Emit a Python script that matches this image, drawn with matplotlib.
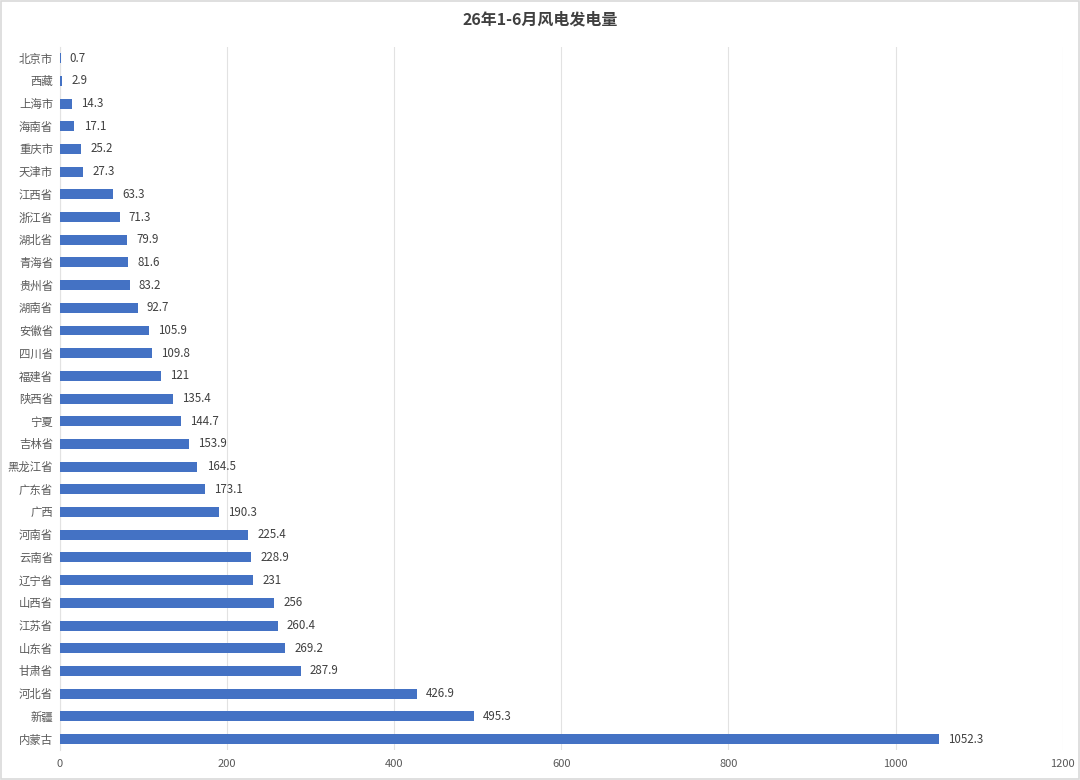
import matplotlib
matplotlib.use("Agg")
import matplotlib.pyplot as plt
from matplotlib.patches import Rectangle

plt.rcParams['font.family'] = ['Noto Sans CJK SC', 'DejaVu Sans']

provinces = ["北京市", "西藏", "上海市", "海南省", "重庆市", "天津市", "江西省", "浙江省", "湖北省",
             "青海省", "贵州省", "湖南省", "安徽省", "四川省", "福建省", "陕西省", "宁夏", "吉林省",
             "黑龙江省", "广东省", "广西", "河南省", "云南省", "辽宁省", "山西省", "江苏省", "山东省",
             "甘肃省", "河北省", "新疆", "内蒙古"]
values = [0.7, 2.9, 14.3, 17.1, 25.2, 27.3, 63.3, 71.3, 79.9, 81.6, 83.2, 92.7, 105.9, 109.8,
          121, 135.4, 144.7, 153.9, 164.5, 173.1, 190.3, 225.4, 228.9, 231, 256, 260.4, 269.2,
          287.9, 426.9, 495.3, 1052.3]
value_labels = ["0.7", "2.9", "14.3", "17.1", "25.2", "27.3", "63.3", "71.3", "79.9", "81.6",
                "83.2", "92.7", "105.9", "109.8", "121", "135.4", "144.7", "153.9", "164.5",
                "173.1", "190.3", "225.4", "228.9", "231", "256", "260.4", "269.2", "287.9",
                "426.9", "495.3", "1052.3"]
xticks = [0, 200, 400, 600, 800, 1000, 1200]
title = "26年1-6月风电发电量"

text_color = "#595959"
bar_color = "#4472C4"

fig = plt.figure(figsize=(10.8, 7.8), dpi=100)
fig.patch.set_facecolor("white")
fig.add_artist(Rectangle((0.001, 0.001), 0.998, 0.998, transform=fig.transFigure,
                         fill=False, edgecolor="#D9D9D9", linewidth=1.2))

ax = fig.add_axes([0.0556, 0.038, 0.9284, 0.902])
y = list(range(len(provinces)))
ax.barh(y, values, height=0.44, color=bar_color, zorder=3)
ax.set_ylim(len(provinces) - 0.5, -0.5)
ax.set_xlim(0, 1200)
ax.set_xticks(xticks)
ax.set_xticklabels([str(t) for t in xticks], color=text_color, fontsize=8)
ax.set_yticks(y)
ax.set_yticklabels(provinces, color=text_color, fontsize=8.2)
ax.tick_params(axis='x', length=0, pad=6)
ax.tick_params(axis='y', length=0, pad=5)
ax.grid(axis='x', color="#E2E2E2", linewidth=0.8, zorder=0)
for s in ["top", "right", "bottom"]:
    ax.spines[s].set_visible(False)
ax.spines["left"].set_color("#E2E2E2")
ax.spines["left"].set_linewidth(0.8)

for yi, v, lab in zip(y, values, value_labels):
    ax.text(v + 11, yi, lab, va='center', ha='left', fontsize=8.3, color="#404040")

fig.text(0.5, 0.975, title, ha='center', va='center', fontsize=11.5, fontweight='bold',
         color="#404040")

fig.savefig("out.png", dpi=100)
